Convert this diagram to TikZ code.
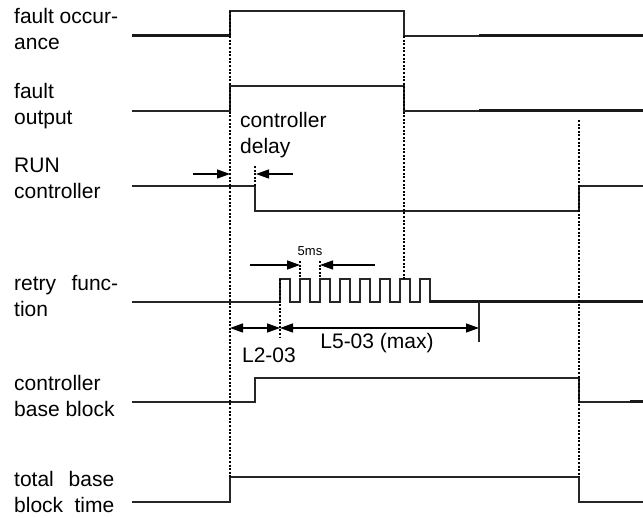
\documentclass[tikz,border=0pt]{standalone}
\usepackage{fontspec}
\setmainfont{Liberation Sans}
\usetikzlibrary{arrows.meta, positioning}

\begin{document}
\begin{tikzpicture}[x=1pt, y=-1pt, >={Triangle[length=13pt,width=9pt]},
  sig/.style={line width=1.8pt, black!85},
  sigthick/.style={line width=3pt, black!90},
  guide/.style={line width=1.5pt, dash pattern=on 2pt off 1.6pt},
  dim/.style={line width=1.3pt},
  lbl/.style={anchor=north west, inner sep=0pt, align=left, font=\fontsize{21}{26}\selectfont},
  txt/.style={inner sep=0pt, font=\fontsize{21}{26}\selectfont}]
  \useasboundingbox (0,0) rectangle (643,518);

  % --- Labels ---
  \node[lbl] (occlbl) at (14,8) {fault occur-\\ance};
  \node[lbl] (outlbl) at (14,83) {fault\\output};
  \node[lbl] (runlbl) at (14,158) {RUN\\controller};
  \node[lbl, text width=104pt] (retrylbl) at (14,275) {retry\hfill func-\\tion};
  \node[lbl] (cbblbl) at (14,375) {controller\\base block};
  \node[lbl, text width=100pt] (tbblbl) at (14,471) {total\hfill base\\block\hfill time};

  % --- fault occurrence ---
  \draw[sig] (132,36) -| (230,11) -| (404,36) -- (643,36);
  \draw[sigthick] (132,36) -- (230,36);
  \draw[sigthick] (479,36) -- (643,36);

  % --- fault output ---
  \draw[sig] (132,111) -| (230,86) -| (404,111) -- (643,111);
  \draw[sigthick] (479,111) -- (643,111);

  % --- RUN controller ---
  \draw[sig] (132,186) -| (255,211) -| (579,186) -- (643,186);

  % --- retry function ---
  \draw[sig] (132,302) foreach \k in {0,...,7} {
      -- ({280+20*\k},302) |- ({290+20*\k},279) |- ({300+20*\k},302)} -- (643,302);
  \draw[sigthick] (430,302) -- (643,302);
  \draw[sig] (479,302) -- (479,342);

  % --- controller base block ---
  \draw[sig] (132,402) -| (255,378) -| (579,402) -- (643,402);
  \draw[sigthick] (630,402) -- (643,402);

  % --- total base block time ---
  \draw[sig] (132,502) -| (230,477) -| (579,502) -- (643,502);

  % Dotted guides
  \draw[guide] (230,11) -- (230,477);
  \draw[guide] (404,36) -- (404,279);
  \draw[guide] (579,120) -- (579,477);
  \draw[guide] (255,166) -- (255,186);
  \draw[guide] (280,279) -- (280,337);
  \draw[guide] (300,261) -- (300,279);
  \draw[guide] (320,261) -- (320,279);

  % controller delay
  \coordinate (dlyL) at (193,174);
  \coordinate (dlyA) at (230,174);
  \coordinate (dlyR) at (293,174);
  \coordinate (dlyB) at (256,174);
  \draw[dim,->] (dlyL) -- (dlyA);
  \draw[dim,->] (dlyR) -- (dlyB);
  \node[lbl] (dlylbl) at (240,112) {controller\\delay};

  % 5ms period
  \coordinate (msL) at (250,265);
  \coordinate (msA) at (300,265);
  \coordinate (msR) at (375,265);
  \coordinate (msB) at (320,265);
  \draw[dim,->] (msL) -- (msA);
  \draw[dim,->] (msR) -- (msB);
  \node[inner sep=0pt, font=\fontsize{13}{15}\selectfont] (mslbl) at (310,251) {5ms};

  % L2-03 / L5-03
  \coordinate (t0) at (230,328);
  \coordinate (t1) at (280,328);
  \coordinate (t2) at (479,328);
  \draw[dim,<->] (t0) -- (t1);
  \draw[dim,<->] (t1) -- (t2);
  \node[txt] (l2lbl) at (269,355) {L2-03};
  \node[txt] (l5lbl) at (377,343) {L5-03 (max)};
\end{tikzpicture}
\end{document}
